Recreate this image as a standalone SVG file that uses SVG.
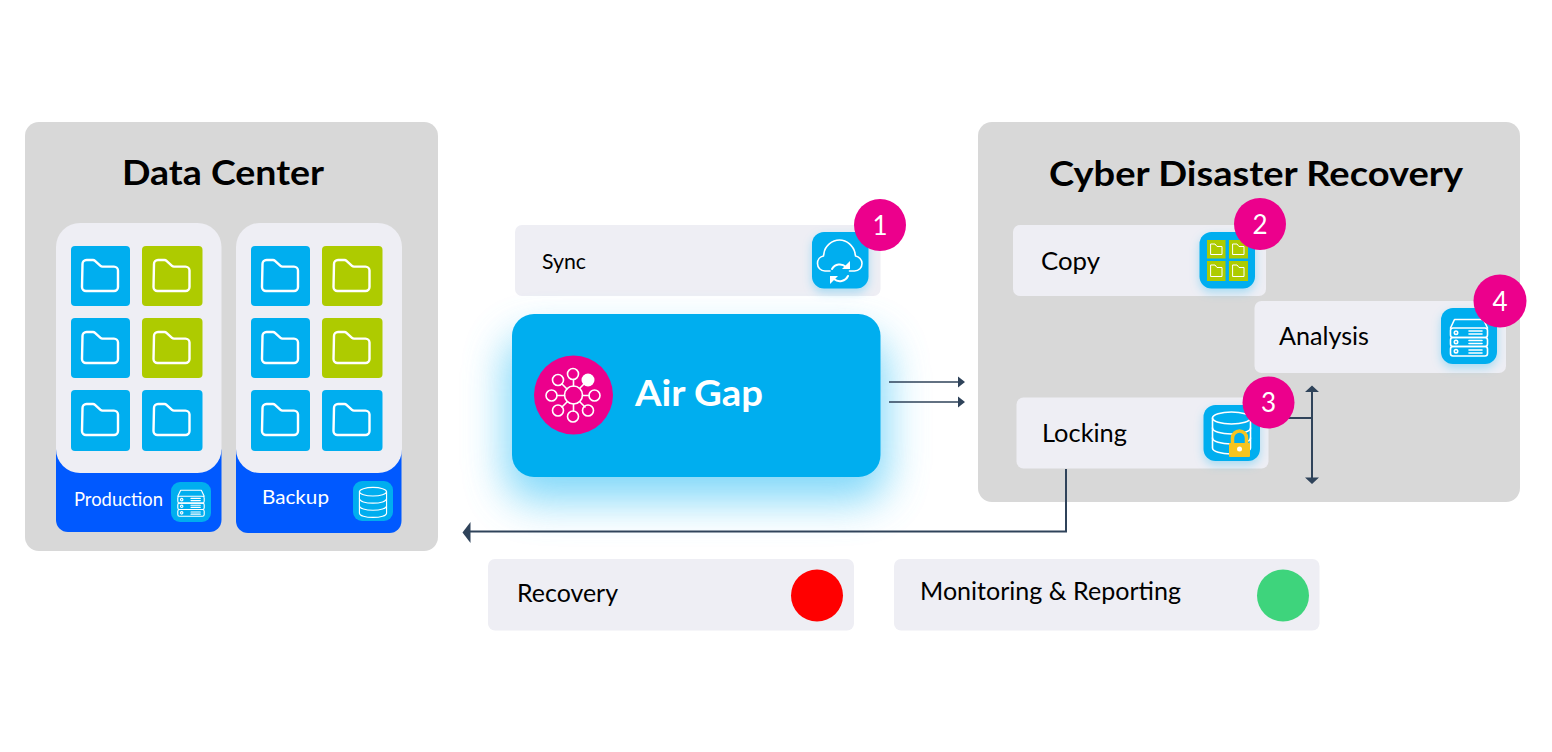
<svg xmlns="http://www.w3.org/2000/svg" xmlns:xlink="http://www.w3.org/1999/xlink" width="1552" height="752" viewBox="0 0 1552 752">
<style>
text{font-family:Lato,"Noto Sans","Liberation Sans",sans-serif}
.panel{fill:#d8d8d8}
.card{fill:#eeeef4}
.blue{fill:#0059ff}
.tile{fill:#00aeef}
.lime{fill:#aecb00}
.ic{fill:#00aeef;filter:url(#soft)}
.badge{fill:#ec008c}
.bn{fill:#fff;font-size:26px;font-weight:400;text-anchor:middle}
.title{fill:#000;font-size:35px;font-weight:700}
.lbl{fill:#000;font-size:25px}
.wl{fill:#fff;font-size:19px}
.ln{fill:none;stroke:#fff;stroke-width:1.6;stroke-linejoin:round;stroke-linecap:round}
.fo{fill:none;stroke:#fff;stroke-width:2.400;stroke-linejoin:round}
.con{fill:none;stroke:#2f435a;stroke-width:2}
.head{fill:#2f435a}
</style>
<defs>
<filter id="glow" x="-40%" y="-60%" width="180%" height="240%"><feGaussianBlur stdDeviation="21"/></filter>
<filter id="soft" x="-40%" y="-40%" width="180%" height="190%"><feDropShadow dx="0" dy="4" stdDeviation="5" flood-color="#00aeef" flood-opacity="0.3"/></filter>
<path id="folder" class="fo" d="M11.500 18a4 4 0 0 1 4-4h6.500a3 3 0 0 1 2 .8l5.500 5a3 3 0 0 0 2 .8h11.500a4 4 0 0 1 4 4v16.400a4 4 0 0 1-4 4h-28a4 4 0 0 1-4-4z"/>
<g id="server" class="ln">
<path d="M9.500 20l4-8.500h29l4 8.500"/>
<rect x="9.500" y="20" width="37" height="9.500" rx="2.500"/>
<rect x="9.500" y="29.500" width="37" height="9" rx="2.500"/>
<rect x="9.500" y="38.500" width="37" height="9.500" rx="2.500"/>
<circle cx="15" cy="24.700" r="1.700"/><circle cx="15" cy="34" r="1.700"/><circle cx="15" cy="43.200" r="1.700"/>
<path d="M28 23h13M28 26h13M28 32.500h13M28 35.500h13M28 42h13M28 45h13"/>
</g>
<g id="db" class="ln">
<ellipse cx="28" cy="15" rx="19" ry="6"/>
<path d="M9 15v30c0 3.500 8.500 6 19 6s19-2.500 19-6V15"/>
<path d="M9 25c0 3.500 8.500 6 19 6s19-2.500 19-6M9 35c0 3.500 8.500 6 19 6s19-2.500 19-6"/>
</g>
</defs>
<rect width="1552" height="752" fill="#fff"/>

<g id="data-center">
<rect class="panel" x="25" y="122" width="413" height="429" rx="14"/>
<text class="title" x="122" y="185" textLength="202" lengthAdjust="spacingAndGlyphs">Data Center</text>
</g>

<g id="production">
<rect class="blue" x="56" y="440" width="165.500" height="92" rx="12"/>
<rect class="card" x="56" y="223" width="165.500" height="250" rx="24"/>
<rect class="tile" x="71" y="246" width="59" height="60" rx="4"/><use href="#folder" x="71" y="246"/>
<rect class="lime" x="142" y="246" width="60.500" height="60" rx="4"/><use href="#folder" x="142.500" y="246"/>
<rect class="tile" x="71" y="318" width="59" height="60" rx="4"/><use href="#folder" x="71" y="318"/>
<rect class="lime" x="142" y="318" width="60.500" height="60" rx="4"/><use href="#folder" x="142.500" y="318"/>
<rect class="tile" x="71" y="390" width="59" height="61" rx="4"/><use href="#folder" x="71" y="390"/>
<rect class="tile" x="142" y="390" width="60.500" height="61" rx="4"/><use href="#folder" x="142.500" y="390"/>
<text class="wl" x="74" y="506" textLength="89" lengthAdjust="spacingAndGlyphs">Production</text>
<rect class="tile" x="171" y="482" width="40" height="40" rx="9"/>
<use href="#server" transform="translate(171 482) scale(.714)"/>
</g>

<g id="backup">
<rect class="blue" x="236" y="440" width="165.500" height="93" rx="12"/>
<rect class="card" x="236" y="223" width="166" height="250" rx="24"/>
<rect class="tile" x="251" y="246" width="59" height="60" rx="4"/><use href="#folder" x="251" y="246"/>
<rect class="lime" x="322" y="246" width="60.500" height="60" rx="4"/><use href="#folder" x="322.500" y="246"/>
<rect class="tile" x="251" y="318" width="59" height="60" rx="4"/><use href="#folder" x="251" y="318"/>
<rect class="lime" x="322" y="318" width="60.500" height="60" rx="4"/><use href="#folder" x="322.500" y="318"/>
<rect class="tile" x="251" y="390" width="59" height="61" rx="4"/><use href="#folder" x="251" y="390"/>
<rect class="tile" x="322" y="390" width="60.500" height="61" rx="4"/><use href="#folder" x="322.500" y="390"/>
<text class="wl" x="262" y="504" textLength="67" lengthAdjust="spacingAndGlyphs">Backup</text>
<rect class="tile" x="353" y="481" width="40" height="40" rx="9"/>
<use href="#db" transform="translate(353 481) scale(.714)"/>
</g>

<g id="sync">
<rect class="card" x="515" y="225" width="365.500" height="71" rx="7"/>
<text class="lbl" x="542" y="268.500" style="font-size:21px" textLength="44" lengthAdjust="spacingAndGlyphs">Sync</text>
<rect class="ic" x="812" y="232" width="56.500" height="56.500" rx="12"/>
<path class="ln" d="M830 271h-5c-4.500 0-7.500-3.500-7.500-7.500s2.500-7 6-7.500c0-1 .5-1.500 .5-3 1-7 8-13 15.500-13s14 6 15.500 13c0 1.500 .5 2 .5 3 3.500 .5 6.500 3.500 6.500 7.500s-3 7.500-7.500 7.500h-5"/>
<path class="ln" style="stroke-width:2" d="M832 269a9 9 0 0 1 14-2M848 276a9 9 0 0 1-14 3"/>
<path d="M850 261v8h-8zM830 284v-8h8z" fill="#fff"/>
</g>
<g id="badge-1"><circle class="badge" cx="880" cy="225" r="26"/><text class="bn" x="880" y="234.500">1</text></g>

<g id="air-gap">
<rect x="505" y="336" width="382" height="165" rx="30" fill="#62cff8" opacity=".8" filter="url(#glow)"/>
<rect x="512" y="314" width="368.500" height="163" rx="22" fill="#00aeef"/>
<circle cx="573.500" cy="395" r="39.500" fill="#ec008c"/>
<g class="ln">
<circle cx="573.500" cy="395" r="9"/>
<circle cx="573" cy="374" r="5.500"/><circle cx="558" cy="380" r="5.500"/><circle cx="551.500" cy="395.500" r="5.500"/><circle cx="558" cy="410.500" r="5.500"/>
<circle cx="573" cy="416.500" r="5.500"/><circle cx="588" cy="410.500" r="5.500"/><circle cx="594.500" cy="395.500" r="5.500"/>
<path d="M573.500 379.500V386M562 384l5 5M557 395.500h7.500M562 407l5-5M573.500 404v7M585 407l-5-5M589 395.500h-6.500M580 388l4-4"/>
</g>
<circle cx="588" cy="380" r="6.500" fill="#fff"/>
<text x="635" y="406" fill="#fff" font-size="36" font-weight="700" textLength="128" lengthAdjust="spacingAndGlyphs">Air Gap</text>
</g>

<g id="cyber-recovery">
<rect class="panel" x="978" y="122" width="542" height="380" rx="14"/>
<text class="title" x="1049" y="186" textLength="414" lengthAdjust="spacingAndGlyphs">Cyber Disaster Recovery</text>
</g>

<g id="connectors">
<path class="con" style="stroke-width:1.500" d="M889 382H960M889 402H960"/>
<path class="head" d="M965 382l-7-5.500v11zM965 402l-7-5.500v11z"/>
<path class="con" d="M1066 469V531.500H468"/>
<path class="head" d="M462.500 532.500L470.500 522v21z"/>
<path class="con" d="M1285 418H1312M1312 390V480"/>
<path class="head" d="M1312 385.500l-7 6.500h14zM1312 484l-7-6.500h14z"/>
</g>

<g id="copy">
<rect class="card" x="1013" y="225" width="253" height="71" rx="7"/>
<text class="lbl" x="1041" y="270" textLength="59" lengthAdjust="spacingAndGlyphs">Copy</text>
<rect class="ic" x="1199.500" y="232" width="55.500" height="56.500" rx="12"/>
<g class="lime">
<rect x="1207" y="240" width="18.500" height="18.500"/><rect x="1229" y="240" width="19" height="18.500"/>
<rect x="1207" y="261" width="18.500" height="20"/><rect x="1229" y="261" width="19" height="20"/>
</g>
<g class="ln" style="stroke-width:1">
<path d="M1211 244h4l2 2.500h5v8h-11zM1233 244h4l2 2.500h5v8h-11zM1211 265h4l2 2.500h5v9h-11zM1233 265h4l2 2.500h5v9h-11z"/>
</g>
</g>
<g id="badge-2"><circle class="badge" cx="1260" cy="224" r="26"/><text class="bn" x="1260" y="233.500">2</text></g>

<g id="analysis">
<rect class="card" x="1254.500" y="301" width="251.500" height="72" rx="7"/>
<text class="lbl" x="1279" y="345" textLength="90" lengthAdjust="spacingAndGlyphs">Analysis</text>
<rect class="ic" x="1441" y="308" width="56" height="56" rx="12"/>
<use href="#server" x="1441" y="308"/>
</g>
<g id="badge-4"><circle class="badge" cx="1500" cy="301" r="26.500"/><text class="bn" x="1500" y="310.500">4</text></g>

<g id="locking">
<rect class="card" x="1016.500" y="397.500" width="252" height="71" rx="7"/>
<text class="lbl" x="1042" y="442" textLength="85" lengthAdjust="spacingAndGlyphs">Locking</text>
<rect class="ic" x="1203.500" y="405" width="56.500" height="56" rx="12"/>
<use href="#db" transform="translate(1203.500 403)"/>
<path d="M1232.500 444v-6a7 7 0 0 1 14 0v6" fill="#00aeef" stroke="#f7c41f" stroke-width="3.500"/>
<rect x="1229" y="443" width="21" height="14" rx="1" fill="#f7c41f"/>
<circle cx="1239.500" cy="449" r="2.500" fill="#fff"/>
</g>
<g id="badge-3"><circle class="badge" cx="1268.500" cy="402.500" r="26"/><text class="bn" x="1268.500" y="412">3</text></g>

<g id="recovery">
<rect class="card" x="488" y="559" width="366" height="71.500" rx="7"/>
<text class="lbl" x="517" y="602" textLength="101" lengthAdjust="spacingAndGlyphs">Recovery</text>
<circle cx="817" cy="595.500" r="26" fill="#ff0000"/>
</g>
<g id="monitoring">
<rect class="card" x="894" y="559" width="425.500" height="71.500" rx="7"/>
<text class="lbl" x="920" y="600" textLength="261" lengthAdjust="spacingAndGlyphs">Monitoring &amp; Reporting</text>
<circle cx="1283" cy="595.500" r="26" fill="#3ed47c"/>
</g>
</svg>
